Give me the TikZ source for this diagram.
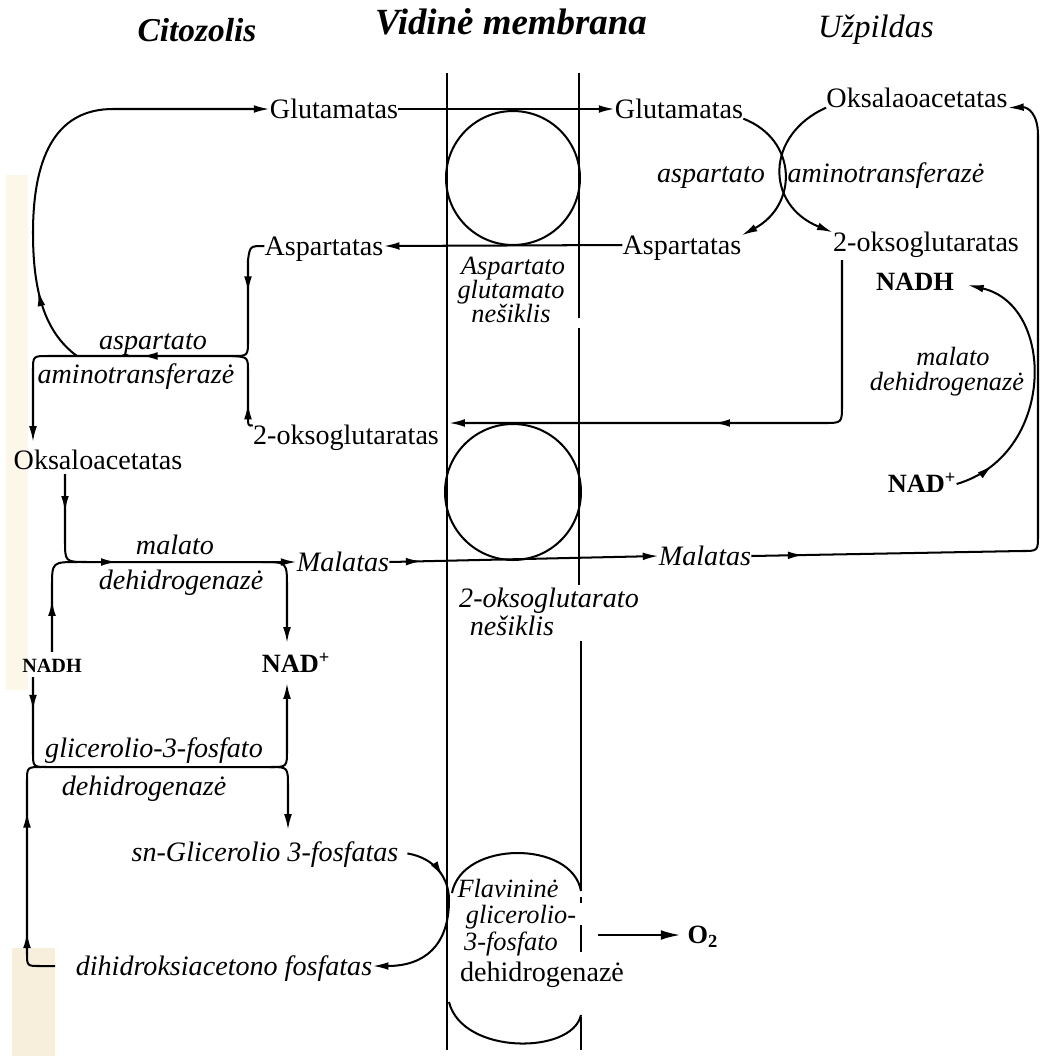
\documentclass[tikz,border=0pt]{standalone}
\usepackage{fontspec}
\setmainfont{Liberation Serif}
\usetikzlibrary{arrows.meta,decorations.markings}
\definecolor{scanA}{RGB}{252,247,232}
\definecolor{scanB}{RGB}{248,238,220}
\tikzset{
  ln/.style={line width=1.15pt, line join=round},
  mem/.style={line width=1.15pt},
  tip/.style={-{Latex[length=9pt,width=4.4pt]}},
  midarr/.style={postaction={decorate,decoration={markings,mark=at position #1 with {\arrow{Latex[length=9pt,width=4.4pt]}}}}},
  lbl/.style={inner sep=0pt,text height=10.6pt,text depth=0pt,font=\fontsize{16}{18}\selectfont},
  ilbl/.style={inner sep=0pt,text height=10.6pt,text depth=0pt,font=\fontsize{16}{18}\selectfont\itshape},
  tlbl/.style={inner sep=0pt,text height=9.6pt,text depth=0pt,font=\fontsize{15}{17}\selectfont\itshape},
  blbl/.style={inner sep=0pt,text height=9.9pt,text depth=0pt,font=\fontsize{15}{17}\selectfont\bfseries},
  sblbl/.style={inner sep=0pt,text height=7.6pt,text depth=0pt,font=\fontsize{11.5}{13}\selectfont\bfseries},
  head/.style={inner sep=0pt,text height=12.5pt,text depth=0pt,font=\fontsize{19}{22}\selectfont\bfseries\itshape},
}
\begin{document}
\begin{tikzpicture}[x=0.02cm,y=-0.02cm]
\fill[white] (0,0) rectangle (1040,1056);
\useasboundingbox (0,0) rectangle (1040,1056);
\fill[scanA] (6,175) rectangle (28,690);
\fill[scanB] (12,948) rectangle (55,1056);

% headers
\node[head] (cit) at (197,31) {Citozolis};
\node[head,font=\fontsize{21}{24}\selectfont\bfseries\itshape] (vid) at (511,24) {Vidinė membrana};
\node[inner sep=0pt,text height=12pt,text depth=0pt,font=\fontsize{18.5}{22}\selectfont\itshape] (uzp) at (876,27) {Užpildas};

% membrane
\draw[mem] (447,73) -- (447,1050);
\draw[mem] (579,73) -- (579,318);
\draw[mem] (579,328) -- (579,585);
\draw[mem] (581,641) -- (581,891);
\draw[mem] (581,897) -- (581,903);
\draw[mem] (581,925) -- (581,952);
\draw[mem] (581,1017) -- (581,1050);
\draw[mem] (513,178) circle[radius=1.34cm];
\draw[mem] (513,492) circle[radius=1.36cm];
\draw[mem] (452,893) .. controls (462,840) and (572,840) .. (581,891);
\draw[mem] (449,1002) .. controls (462,1055) and (572,1055) .. (581,1015);

% labels: matrix side
\node[lbl] (gluL) at (334,109) {Glutamatas};
\node[lbl] (gluR) at (679,109) {Glutamatas};
\node[lbl] (aspL) at (324,246) {Aspartatas};
\node[lbl] (aspR) at (682,245) {Aspartatas};
\node[lbl] (oxR) at (917,98) {Oksalaoacetatas};
\node[ilbl] (ezA1) at (711,173) {aspartato};
\node[ilbl] (ezA2) at (886,173) {aminotransferazė};
\node[lbl] (okgR) at (926,242) {2-oksoglutaratas};
\node[blbl] (nadhR) at (915,282) {NADH};
\node[tlbl] (mdhR1) at (953,357) {malato};
\node[tlbl] (mdhR2) at (947,382) {dehidrogenazė};
\node[blbl] (nadR) at (922,484) {NAD\textsuperscript{+}};

% carrier labels
\node[tlbl] (asg1) at (513,266) {Aspartato};
\node[tlbl] (asg2) at (511,290) {glutamato};
\node[tlbl] (asg3) at (511,314) {nešiklis};
\node[ilbl] (ogn1) at (549,598) {2-oksoglutarato};
\node[ilbl] (ogn2) at (512,626) {nešiklis};
\node[tlbl] (fl1) at (508,889) {Flavininė};
\node[tlbl] (fl2) at (521,915) {glicerolio-};
\node[tlbl] (fl3) at (511,942) {3-fosfato};
\node[lbl] (fl4) at (542,972) {dehidrogenazė};
\node[blbl] (o2) at (703,935) {O\textsubscript{2}};

% cytosol labels
\node[ilbl] (ezB1) at (153,340) {aspartato};
\node[ilbl] (ezB2) at (136,374) {aminotransferazė};
\node[lbl] (okgL) at (346,435) {2-oksoglutaratas};
\node[lbl] (oxL) at (98,460) {Oksaloacetatas};
\node[ilbl] (mdhL1) at (175,545) {malato};
\node[ilbl] (mdhL2) at (181,580) {dehidrogenazė};
\node[ilbl] (malL) at (343,562) {Malatas};
\node[ilbl] (malR) at (705,556) {Malatas};
\node[sblbl] (nadhL) at (52,666) {NADH};
\node[blbl] (nadL) at (296,664) {NAD\textsuperscript{+}};
\node[ilbl] (g3p1) at (154,748) {glicerolio-3-fosfato};
\node[ilbl] (g3p2) at (144,786) {dehidrogenazė};
\node[ilbl] (snG) at (265,852) {sn-Glicerolio 3-fosfatas};
\node[ilbl] (dhap) at (224,966) {dihidroksiacetono fosfatas};

% free ends
\coordinate (okgRs) at (842,260);
\coordinate (okin) at (449,423);
\coordinate (o2s) at (598,935);
\coordinate (brk) at (77,356);
\coordinate (oxLin) at (33,442);
\coordinate (oxLs) at (65,474);
\coordinate (nadLt) at (287,643);
\coordinate (nadhLd) at (33,677);
\coordinate (nadLb) at (287,683);
\coordinate (snGt) at (288,830);
\coordinate (dhapL) at (55,966);

% connectors across the membrane
\draw[ln,tip] (gluL.east) -- (gluR.west);
\draw[ln,tip] (aspR.west) -- (aspL.east);
\draw[ln,tip,midarr=0.52] (okgRs) -- (842,405) .. controls (842,423) .. (824,423) -- (okin);
\draw[ln,tip,midarr=0.12] (malL.east) -- (malR.west);

% matrix side
\draw[ln,tip] (gluR.south east) .. controls (798,140) and (798,205) .. (aspR.north east);
\draw[ln,tip] (oxR.south west) .. controls (765,135) and (765,205) .. (okgR.north west);
\draw[ln,tip,midarr=0.07] (malR.east) -- (1022,551) .. controls (1038,551) .. (1038,535) -- (1038,135) .. controls (1038,114) and (1028,107) .. (oxR.south east);
\draw[ln,tip,midarr=0.15,shorten >=8pt] (nadR.east) .. controls (1056,455) and (1056,305) .. (nadhR.east);
\draw[ln,-{Latex[length=11pt,width=5.5pt]},shorten >=4pt] (o2s) -- (o2.west);

% cytosol: aspartate aminotransferase
\draw[ln,tip,midarr=0.17] (brk) .. controls (44,332) and (33,290) .. (33,233) .. controls (33,150) and (60,109) .. (113,109) -- (gluL.west);
\draw[ln,tip,midarr=0.14,midarr=0.54] (aspL.west) .. controls (250,246) .. (248,260) -- (248,340) .. controls (248,356) .. (232,356) -- (48,356) .. controls (33,356) .. (33,371) -- (oxLin);
\draw[ln,midarr=0.3] (okgL.north west) .. controls (248,426) .. (248,414) -- (248,372) .. controls (248,357) .. (232,356);

% cytosol: malate dehydrogenase
\draw[ln,tip,midarr=0.12,midarr=0.43] (oxLs) -- (65,540) .. controls (65,562) .. (87,562) -- (malL.west);
\draw[ln,midarr=0.5,shorten <=4pt] (nadhL.north) -- (52,587) .. controls (52,562) .. (78,562);
\draw[ln,tip] (262,562) .. controls (287,562) .. (287,587) -- (nadLt);

% cytosol: glycerol-3-phosphate dehydrogenase
\draw[ln,tip,midarr=0.08] (nadhLd) -- (33,752) .. controls (33,767) .. (48,767) -- (270,767) .. controls (287,767) .. (287,750) -- (nadLb);
\draw[ln,tip] (270,767) .. controls (288,767) .. (288,787) -- (snGt);
\draw[ln,midarr=0.25,midarr=0.76] (dhapL) -- (40,966) .. controls (27,966) .. (27,953) -- (27,782) .. controls (27,767) .. (42,767);
\draw[ln,tip,midarr=0.27,shorten <=5pt] (snG.east) .. controls (435,858) and (449,878) .. (449,900) .. controls (449,945) and (425,966) .. (dhap.east);
\end{tikzpicture}
\end{document}
